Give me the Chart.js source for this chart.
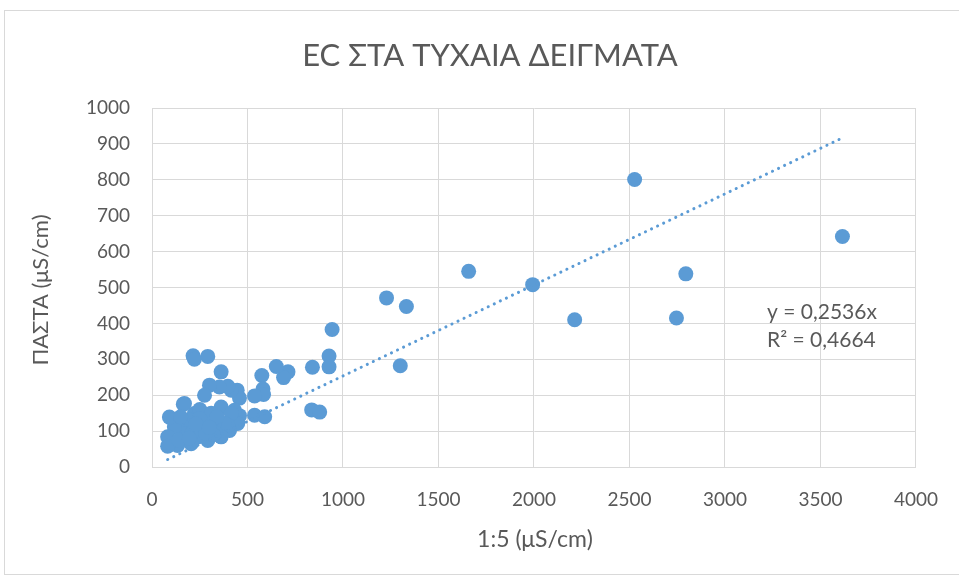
<!DOCTYPE html>
<html>
<head>
<meta charset="utf-8">
<script src="https://cdn.jsdelivr.net/npm/chart.js@4.4.1/dist/chart.umd.min.js"></script>
<style>
  html, body { margin: 0; padding: 0; background: #ffffff; }
  #wrap { width: 959px; height: 578px; }
</style>
</head>
<body>
<div id="wrap"><canvas id="c" width="959" height="578"></canvas></div>
<script>
// EC of the 1:5 extract (x) against EC of the saturated paste (y), μS/cm
const ecExtract = [
  3615, 2527, 2795, 2746, 2213, 1993, 1658, 1228, 1332, 1300,
  943, 927, 927, 840, 836, 878, 712, 689, 651, 575,
  581, 584, 537, 537, 590, 446, 458, 458, 449, 432,
  415, 397, 362, 353, 301, 292, 215, 222, 275, 362,
  415, 406, 397, 380, 327, 362, 292, 275, 222, 239,
  205, 187, 170, 170, 134, 117, 91, 82, 82, 164,
  250, 310, 330, 260, 200, 150, 210, 320, 280, 140,
  250, 340, 230, 300, 195
];
const ecPaste = [
  642, 801, 538, 415, 410, 508, 545, 471, 447, 282,
  383, 309, 279, 278, 159, 153, 265, 249, 280, 255,
  217, 202, 198, 144, 140, 214, 192, 143, 121, 158,
  214, 225, 265, 223, 228, 308, 310, 300, 200, 167,
  149, 102, 116, 121, 121, 84, 74, 130, 149, 84,
  65, 112, 177, 93, 60, 112, 139, 84, 58, 175,
  160, 150, 95, 110, 130, 140, 95, 90, 95, 75,
  135, 140, 120, 110, 80
];
const xTicks = [0, 500, 1000, 1500, 2000, 2500, 3000, 3500, 4000];
const yTicks = [0, 100, 200, 300, 400, 500, 600, 700, 800, 900, 1000];

// linear fit through the origin
const trendSlope = 0.2536;
const trendR2 = 0.4664;

const title = 'EC ΣΤΑ ΤΥΧΑΙΑ ΔΕΙΓΜΑΤΑ';
const xTitle = '1:5 (μS/cm)';
const yTitle = 'ΠΑΣΤΑ (μS/cm)';

const points = ecExtract.map((x, i) => ({ x: x, y: ecPaste[i] }));
const xMin = Math.min(...ecExtract);
const xMax = Math.max(...ecExtract);
const trend = [
  { x: xMin, y: trendSlope * xMin },
  { x: xMax, y: trendSlope * xMax }
];

const FONT = 'Lato, "Open Sans", sans-serif';
const TXT = '#595959';
const GRID = '#d9d9d9';
const fmt = v => v.toFixed(4).replace('.', ',');

const decor = {
  id: 'decor',
  beforeDraw(chart) {
    const ctx = chart.ctx;
    ctx.save();
    ctx.fillStyle = '#ffffff';
    ctx.fillRect(0, 0, chart.width, chart.height);
    ctx.strokeStyle = GRID;
    ctx.lineWidth = 1;
    ctx.strokeRect(4.5, 10.5, 980, 564);
    ctx.restore();
  },
  afterDraw(chart) {
    const ctx = chart.ctx;
    ctx.save();
    ctx.fillStyle = TXT;
    ctx.textAlign = 'center';
    ctx.textBaseline = 'middle';
    ctx.font = '31px ' + FONT;
    ctx.fillText(title, 490, 56);
    ctx.font = '23px ' + FONT;
    ctx.fillText(xTitle, 535, 540);
    ctx.font = '22px ' + FONT;
    ctx.translate(41, 290);
    ctx.rotate(-Math.PI / 2);
    ctx.fillText(yTitle, 0, 0);
    ctx.restore();

    ctx.save();
    ctx.fillStyle = TXT;
    ctx.font = '21px ' + FONT;
    ctx.textAlign = 'left';
    ctx.textBaseline = 'middle';
    ctx.fillText('y = ' + fmt(trendSlope) + 'x', 767, 312);
    ctx.fillText('R² = ' + fmt(trendR2), 767, 340);
    ctx.restore();
  }
};

new Chart(document.getElementById('c'), {
  type: 'scatter',
  data: {
    datasets: [
      {
        label: 'Δείγματα',
        data: points,
        backgroundColor: '#5b9bd5',
        borderColor: '#5b9bd5',
        borderWidth: 0,
        pointRadius: 7.5,
        pointHoverRadius: 7.5,
        order: 2
      },
      {
        label: 'Γραμμική',
        type: 'line',
        data: trend,
        borderColor: '#5b9bd5',
        borderWidth: 3,
        borderDash: [0.1, 6.6],
        borderCapStyle: 'round',
        pointRadius: 0,
        fill: false,
        order: 1
      }
    ]
  },
  options: {
    responsive: false,
    animation: false,
    events: [],
    layout: { padding: { left: 0, right: 35, top: 108, bottom: 0 } },
    plugins: {
      legend: { display: false },
      tooltip: { enabled: false },
      title: { display: false }
    },
    scales: {
      x: {
        type: 'linear',
        min: 0, max: 4000,
        afterBuildTicks: s => { s.ticks = xTicks.map(v => ({ value: v })); },
        afterFit: s => { s.height = 111; },
        grid: { color: GRID, lineWidth: 1, drawTicks: false },
        border: { color: GRID, width: 1 },
        ticks: {
          color: TXT, font: { family: FONT, size: 19 }, padding: 21, maxRotation: 0,
          callback: v => String(v)
        }
      },
      y: {
        type: 'linear',
        min: 0, max: 1000,
        afterBuildTicks: s => { s.ticks = yTicks.map(v => ({ value: v })); },
        afterFit: s => { s.width = 152; },
        grid: { color: GRID, lineWidth: 1, drawTicks: false },
        border: { color: GRID, width: 1 },
        ticks: {
          color: TXT, font: { family: FONT, size: 19 }, padding: 22,
          callback: v => String(v)
        }
      }
    }
  },
  plugins: [decor]
});
</script>
</body>
</html>
